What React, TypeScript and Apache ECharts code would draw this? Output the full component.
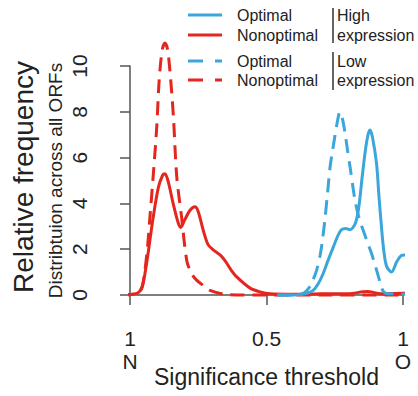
import React, { useEffect, useRef } from "react";
import * as echarts from "echarts";

const RED = "#E4261F";
const BLUE = "#3AA6DC";
const INK = "#222222";
const AXIS = "#555555";
const FONT = "'Liberation Sans', Arial, Helvetica, sans-serif";

const xTickValues = [0, 0.5, 1];
const xTickLabels = ["1\nN", "0.5", "1\nO"];

const highNonoptimal: number[][] = [
  [-0.037, 0], [0.0, 0.02], [0.03, 0.1], [0.045, 0.35], [0.061, 1.4], [0.073, 2.4],
  [0.085, 3.4], [0.104, 4.7], [0.12, 5.24], [0.128, 5.3], [0.14, 4.95], [0.158, 4.0],
  [0.177, 3.13], [0.186, 2.95], [0.2, 3.27], [0.22, 3.7], [0.238, 3.85], [0.25, 3.64],
  [0.268, 2.84], [0.286, 2.2], [0.305, 1.97], [0.33, 1.75], [0.348, 1.5], [0.37, 1.1],
  [0.39, 0.8], [0.44, 0.3], [0.48, 0.12], [0.513, 0.05], [0.6, 0.03], [0.7, 0.05],
  [0.8, 0.06], [0.87, 0.15], [0.92, 0.06], [1.0, 0.08], [1.04, 0.05],
];

const lowNonoptimal: number[][] = [
  [-0.037, 0], [0.0, 0.02], [0.03, 0.1], [0.045, 0.4], [0.055, 1.1], [0.065, 2.2],
  [0.073, 3.4], [0.085, 5.2], [0.098, 7.35], [0.107, 9.4], [0.118, 10.7], [0.128, 11.0],
  [0.138, 10.7], [0.149, 9.4], [0.159, 7.8], [0.171, 5.2], [0.189, 3.4], [0.208, 1.5],
  [0.225, 0.95], [0.244, 0.65], [0.27, 0.4], [0.293, 0.2], [0.354, 0.02], [0.5, 0],
  [0.7, 0], [1.04, 0],
];

const highOptimal: number[][] = [
  [0.54, 0], [0.6, 0], [0.623, 0.02], [0.65, 0.08], [0.671, 0.2], [0.69, 0.5],
  [0.708, 0.95], [0.725, 1.5], [0.745, 2.1], [0.762, 2.6], [0.775, 2.85], [0.79, 2.9],
  [0.806, 2.85], [0.82, 3.0], [0.83, 3.3], [0.84, 4.0], [0.849, 5.0], [0.862, 6.3],
  [0.872, 7.0], [0.879, 7.2], [0.888, 6.9], [0.903, 5.75], [0.912, 4.3], [0.922, 2.85],
  [0.93, 1.9], [0.94, 1.25], [0.958, 1.0], [0.977, 1.45], [0.993, 1.72], [1.007, 1.75],
  [1.02, 1.55], [1.032, 1.25], [1.044, 0.65],
];

const lowOptimal: number[][] = [
  [0.54, 0], [0.6, 0], [0.635, 0.07], [0.655, 0.3], [0.67, 0.65], [0.684, 1.1],
  [0.696, 1.7], [0.705, 2.4], [0.714, 3.3], [0.724, 4.5], [0.733, 5.6], [0.742, 6.3],
  [0.75, 6.9], [0.76, 7.6], [0.769, 8.0], [0.778, 7.7], [0.788, 7.05], [0.797, 6.3],
  [0.806, 5.6], [0.815, 4.85], [0.824, 4.15], [0.836, 3.5], [0.849, 3.0], [0.867, 2.4],
  [0.885, 1.8], [0.898, 1.3], [0.91, 0.8], [0.92, 0.4], [0.928, 0.15], [0.945, 0.05],
  [0.965, 0.05], [1.04, 0.02],
];

const highNames = ["High Optimal", "High Nonoptimal"];
const lowNames = ["Low Optimal", "Low Nonoptimal"];

export default function App() {
  const ref = useRef<HTMLDivElement>(null);
  useEffect(() => {
    const chart = echarts.init(ref.current!, null, { renderer: "svg" });
    const dash = [14, 8];
    const mkSeries = (name: string, data: number[][], color: string, dashed: boolean) => ({
      name,
      type: "line",
      data,
      smooth: 0.3,
      symbol: "none",
      showSymbol: false,
      clip: false,
      itemStyle: { color },
      lineStyle: { color, width: 3, type: dashed ? dash : "solid", cap: "butt" },
      z: 2,
    });
    const solidIcon = "path://M0,0h34v3h-34z";
    const dashIcon = "path://M0,0h15v3h-15z M27,0h7v3h-7z";
    const legendBase = {
      orient: "vertical",
      left: 188,
      padding: 0,
      itemWidth: 34,
      itemHeight: 3,
      selectedMode: false,
      formatter: (n: string) => n.replace(/^(High|Low) /, ""),
      textStyle: { fontSize: 16, lineHeight: 18, color: INK, fontFamily: FONT, padding: [0, 0, 0, 10] },
    };
    const txt = (x: number, y: number, text: string, size: number, extra: any = {}) => ({
      type: "text",
      x,
      y,
      ...extra,
      style: {
        text,
        font: `${size}px ${FONT}`,
        fill: INK,
        align: extra.align || "left",
        verticalAlign: "middle",
        textAlign: extra.align || "left",
        textVerticalAlign: "middle",
      },
    });
    chart.setOption({
      animation: false,
      backgroundColor: "#ffffff",
      grid: { left: 130, right: 15, top: 66, bottom: 101, containLabel: false, outerBoundsMode: "none" },
      xAxis: {
        type: "value",
        min: 0,
        max: 1,
        interval: 0.5,
        offset: 12,
        axisLine: { show: true, lineStyle: { color: AXIS, width: 1.5 } },
        axisTick: { show: true, length: 10, lineStyle: { color: AXIS, width: 1.5 } },
        splitLine: { show: false },
        axisLabel: {
          showMinLabel: true,
          showMaxLabel: true,
          margin: 20,
          fontSize: 21,
          lineHeight: 23,
          color: INK,
          fontFamily: FONT,
          formatter: (v: number) => {
            const i = xTickValues.findIndex((t) => Math.abs(t - v) < 1e-9);
            return i >= 0 ? xTickLabels[i] : "";
          },
        },
        name: "Significance threshold",
        nameLocation: "middle",
        nameGap: 58,
        nameMoveOverlap: false,
        nameTextStyle: { fontSize: 23, color: INK, fontFamily: FONT },
      },
      yAxis: {
        type: "value",
        min: 0,
        max: 10,
        interval: 2,
        offset: 12,
        axisLine: { show: true, lineStyle: { color: AXIS, width: 1.5 } },
        axisTick: { show: true, length: 10, lineStyle: { color: AXIS, width: 1.5 } },
        splitLine: { show: false },
        axisLabel: {
          rotate: 90,
          margin: 28,
          fontSize: 21,
          color: INK,
          fontFamily: FONT,
          showMinLabel: true,
          showMaxLabel: true,
        },
        name: "Distribtuion across all ORFs",
        nameLocation: "middle",
        nameRotate: 90,
        nameGap: 53,
        nameMoveOverlap: false,
        nameTextStyle: { fontSize: 19, color: INK, fontFamily: FONT },
      },
      legend: [
        {
          ...legendBase,
          top: 6,
          itemGap: 2,
          data: [
            { name: highNames[0], icon: solidIcon },
            { name: highNames[1], icon: solidIcon },
          ],
        },
        {
          ...legendBase,
          top: 52,
          itemGap: 1,
          data: [
            { name: lowNames[0], icon: dashIcon },
            { name: lowNames[1], icon: dashIcon },
          ],
        },
      ],
      graphic: [
        { type: "line", shape: { x1: 333, y1: 8, x2: 333, y2: 43 }, style: { stroke: "#333", lineWidth: 1.5 } },
        { type: "line", shape: { x1: 333, y1: 52, x2: 333, y2: 90 }, style: { stroke: "#333", lineWidth: 1.5 } },
        txt(337, 15, "High", 16),
        txt(337, 35, "expression", 16),
        txt(337, 61, "Low", 16),
        txt(337, 80, "expression", 16),
        txt(23, 177, "Relative frequency", 28, { rotation: Math.PI / 2, align: "center" }),
      ],
      series: [
        mkSeries("High Nonoptimal", highNonoptimal, RED, false),
        mkSeries("Low Nonoptimal", lowNonoptimal, RED, true),
        mkSeries("High Optimal", highOptimal, BLUE, false),
        mkSeries("Low Optimal", lowOptimal, BLUE, true),
      ],
    });
    return () => chart.dispose();
  }, []);
  return <div ref={ref} style={{ position: "absolute", left: 0, top: 0, width: 418, height: 396 }} />;
}
